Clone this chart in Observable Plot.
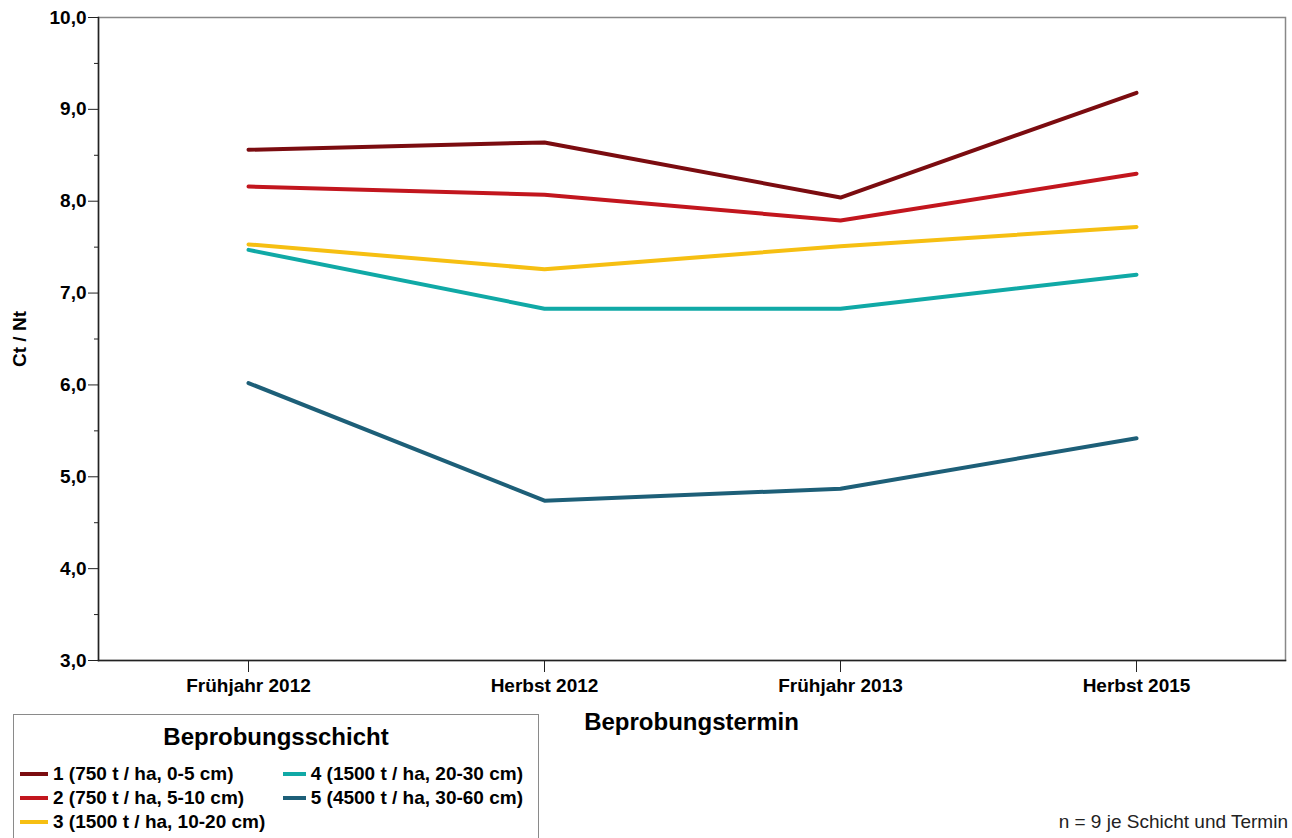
<!DOCTYPE html>
<html>
<head>
<meta charset="utf-8">
<script src="https://cdn.jsdelivr.net/npm/d3@7"></script>
<script src="https://cdn.jsdelivr.net/npm/@observablehq/plot@0.6"></script>
<style>
  html, body { margin: 0; padding: 0; background: #fff; overflow: hidden; }
  #wrap { position: relative; width: 1292px; height: 838px; overflow: hidden; font-family: "Liberation Sans", Arial, sans-serif; }
  #legend { position: absolute; left: 13px; top: 714px; width: 526px; height: 140px; border: 1.5px solid #8a8a8a; box-sizing: border-box; }
  #legend .title { position: absolute; left: 0; width: 100%; top: 8px; text-align: center; font-weight: bold; font-size: 24px; color: #000; }
  #legend .items { position: absolute; left: 6px; top: 47px; display: grid; grid-auto-flow: column; grid-template-rows: repeat(3, 24px); grid-template-columns: 263px 240px; }
  #legend .item { display: flex; align-items: center; font-weight: bold; font-size: 19px; color: #000; white-space: nowrap; }
  #legend .sw { width: 28px; height: 4px; margin-right: 5px; }
  #caption { position: absolute; right: 4px; top: 811px; font-size: 19px; color: #222; white-space: nowrap; }
</style>
</head>
<body>
<div id="wrap">
  <div id="chart"></div>
  <div id="legend"><div class="title">Beprobungsschicht</div><div class="items"></div></div>
  <div id="caption">n = 9 je Schicht und Termin</div>
</div>
<script>
const categories = ["Frühjahr 2012", "Herbst 2012", "Frühjahr 2013", "Herbst 2015"];
const seriesNames = [
  "1 (750 t / ha, 0-5 cm)",
  "2 (750 t / ha, 5-10 cm)",
  "3 (1500 t / ha, 10-20 cm)",
  "4 (1500 t / ha, 20-30 cm)",
  "5 (4500 t / ha, 30-60 cm)"
];
const series1 = [8.56, 8.64, 8.04, 9.18];
const series2 = [8.16, 8.07, 7.79, 8.30];
const series3 = [7.53, 7.26, 7.51, 7.72];
const series4 = [7.47, 6.83, 6.83, 7.20];
const series5 = [6.02, 4.74, 4.87, 5.42];
const seriesColors = ["#7b0c10", "#c2161e", "#f6bf12", "#10a9a6", "#1d5f78"];
const yMajorTicks = [3, 4, 5, 6, 7, 8, 9, 10];
const yMinorTicks = [3.5, 4.5, 5.5, 6.5, 7.5, 8.5, 9.5];

const allSeries = [series1, series2, series3, series4, series5];
const data = [];
allSeries.forEach((vals, i) => {
  vals.forEach((v, j) => data.push({ cat: categories[j], value: v, series: seriesNames[i] }));
});

const fmt = d => d.toFixed(1).replace(".", ",");

const chart = Plot.plot({
  width: 1292,
  height: 838,
  marginTop: 17,
  marginBottom: 178,
  marginLeft: 98,
  marginRight: 7,
  style: { fontFamily: "'Liberation Sans', Arial, sans-serif", fontSize: "19px", fontWeight: "bold", color: "#000", background: "transparent" },
  x: { type: "point", domain: categories, padding: 0.5 },
  y: { domain: [3, 10] },
  color: { domain: seriesNames, range: seriesColors },
  marks: [
    Plot.frame({ stroke: "#888", strokeWidth: 1.5 }),
    Plot.frame({ anchor: "left", stroke: "#222", strokeWidth: 1.5 }),
    Plot.frame({ anchor: "bottom", stroke: "#222", strokeWidth: 1.5 }),
    Plot.axisY({ ticks: yMajorTicks, tickFormat: fmt, tickSize: 10, tickPadding: 2, stroke: "#222",
      label: "Ct / Nt", labelAnchor: "center", labelArrow: "none", labelOffset: 86, fontSize: 19 }),
    Plot.axisY({ ticks: yMinorTicks, tickFormat: null, text: null, tickSize: 4, stroke: "#222", label: null }),
    Plot.axisX({ tickSize: 12, tickPadding: 6, stroke: "#222", label: null, fontSize: 19 }),
    Plot.line(data, { x: "cat", y: "value", z: "series", stroke: "series", strokeWidth: 4, strokeLinejoin: "miter" })
  ]
});
document.getElementById("chart").appendChild(chart);

// x axis title
const svg = d3.select(chart);
svg.append("text")
  .attr("x", (98 + 1285) / 2)
  .attr("y", 730)
  .attr("text-anchor", "middle")
  .style("font-size", "24px")
  .style("font-weight", "bold")
  .attr("fill", "#000")
  .text("Beprobungstermin");

const items = d3.select("#legend .items");
seriesNames.forEach((name, i) => {
  const it = items.append("div").attr("class", "item");
  it.append("div").attr("class", "sw").style("background", seriesColors[i]);
  it.append("span").text(name);
});
</script>
</body>
</html>
